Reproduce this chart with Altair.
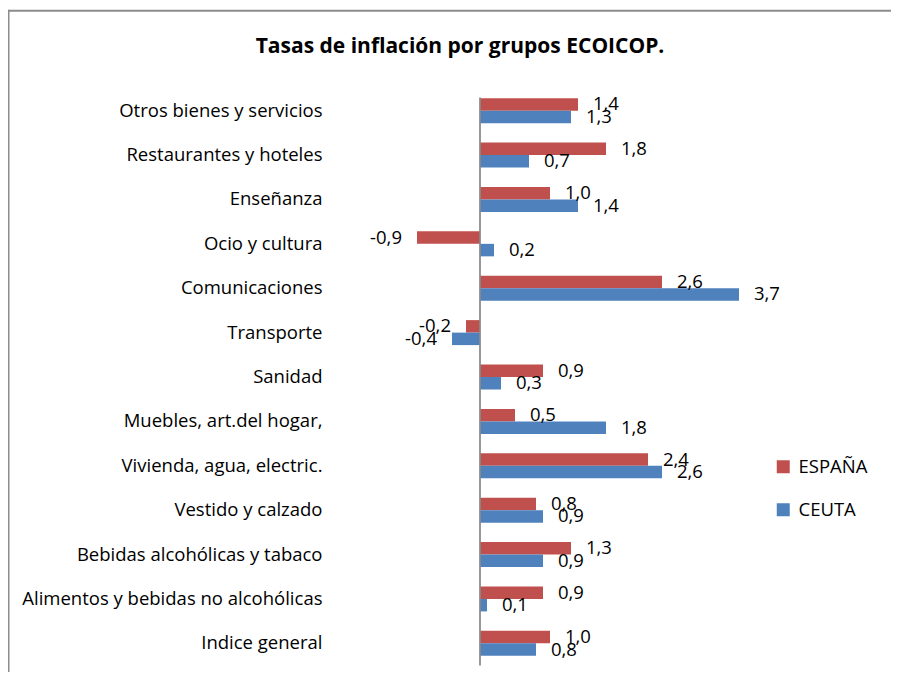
import altair as alt
import pandas as pd

categorias = [
    "Otros bienes y servicios",
    "Restaurantes y hoteles",
    "Enseñanza",
    "Ocio y cultura",
    "Comunicaciones",
    "Transporte",
    "Sanidad",
    "Muebles, art.del hogar,\u00a0",
    "Vivienda, agua, electric.\u00a0",
    "Vestido y calzado",
    "Bebidas alcohólicas y tabaco",
    "Alimentos y bebidas no alcohólicas",
    "Indice general",
]
espana = [1.4, 1.8, 1.0, -0.9, 2.6, -0.2, 0.9, 0.5, 2.4, 0.8, 1.3, 0.9, 1.0]
ceuta = [1.3, 0.7, 1.4, 0.2, 3.7, -0.4, 0.3, 1.8, 2.6, 0.9, 0.9, 0.1, 0.8]
series = ["ESPAÑA", "CEUTA"]
colores = ["#C0504D", "#4F81BD"]
titulo = "Tasas de inflación por grupos ECOICOP."

filas = []
for c, e, ce in zip(categorias, espana, ceuta):
    filas.append({"grupo": c, "serie": series[0], "valor": e})
    filas.append({"grupo": c, "serie": series[1], "valor": ce})
df = pd.DataFrame(filas)

W, H = 420, 577
FONT = "Open Sans"
FS = 18.5

xenc = alt.X("valor:Q", scale=alt.Scale(domain=[-2, 4], nice=False), axis=None, stack=None)
yenc = alt.Y(
    "grupo:N",
    scale=alt.Scale(domain=categorias, paddingInner=0.437, paddingOuter=0.2185),
    axis=alt.Axis(title=None, domain=False, ticks=False, tickSize=0, labelPadding=18,
                  labelFont=FONT, labelFontSize=FS, labelColor="#000", labelLimit=400,
                  grid=False),
)
yoff = alt.YOffset("serie:N", scale=alt.Scale(domain=series))

base = alt.Chart(df).transform_calculate(
    lbl="(datum.valor < 0 ? '-' : '') + replace(format(abs(datum.valor), '.1f'), '.', ',')"
)

bars = base.mark_bar().encode(
    x=xenc,
    x2=alt.datum(0),
    y=yenc,
    yOffset=yoff,
    color=alt.Color(
        "serie:N",
        scale=alt.Scale(domain=series, range=colores),
        legend=alt.Legend(title=None, orient="none", legendX=434, legendY=369,
                          symbolType="square", symbolSize=169, symbolStrokeWidth=0,
                          labelFont=FONT, labelFontSize=FS, labelColor="#000",
                          rowPadding=24, labelOffset=6, padding=0),
    ),
)

pos = base.transform_filter("datum.valor >= 0").mark_text(
    align="left", baseline="middle", dx=15, font=FONT, fontSize=FS, color="#000"
).encode(x=xenc, y=yenc, yOffset=yoff, text="lbl:N")

neg = base.transform_filter("datum.valor < 0").mark_text(
    align="right", baseline="middle", dx=-15, font=FONT, fontSize=FS, color="#000"
).encode(x=xenc, y=yenc, yOffset=yoff, text="lbl:N")

eje = alt.Chart(pd.DataFrame({"cero": [0]})).mark_rule(color="#8a8a8a", strokeWidth=1.75).encode(
    x=alt.X("cero:Q", axis=None), y=alt.value(9), y2=alt.value(H)
)

marco = pd.DataFrame({"k": [0]})
borde_sup = alt.Chart(marco).mark_rule(color="#8c8c8c", strokeWidth=2).encode(
    x=alt.value(-331.5), x2=alt.value(560), y=alt.value(-77.8)
)
borde_izq = alt.Chart(marco).mark_rule(color="#8c8c8c", strokeWidth=2).encode(
    x=alt.value(-331.5), y=alt.value(-78.8), y2=alt.value(600)
)

chart = alt.layer(bars, pos, neg, eje, borde_sup, borde_izq).properties(
    width=W,
    height=H,
    background="white",
    padding={"left": 332, "top": 80.5, "right": 131, "bottom": 6.5},
    autosize=alt.AutoSizeParams(type="none"),
    title=alt.TitleParams(titulo, font=FONT, fontSize=21, fontWeight="bold", color="#000",
                          anchor="middle", frame="group", dx=-90, offset=-65,
                          baseline="alphabetic"),
).configure_view(stroke=None)

chart.save("out.html", embed_options={"renderer": "svg", "actions": False})
